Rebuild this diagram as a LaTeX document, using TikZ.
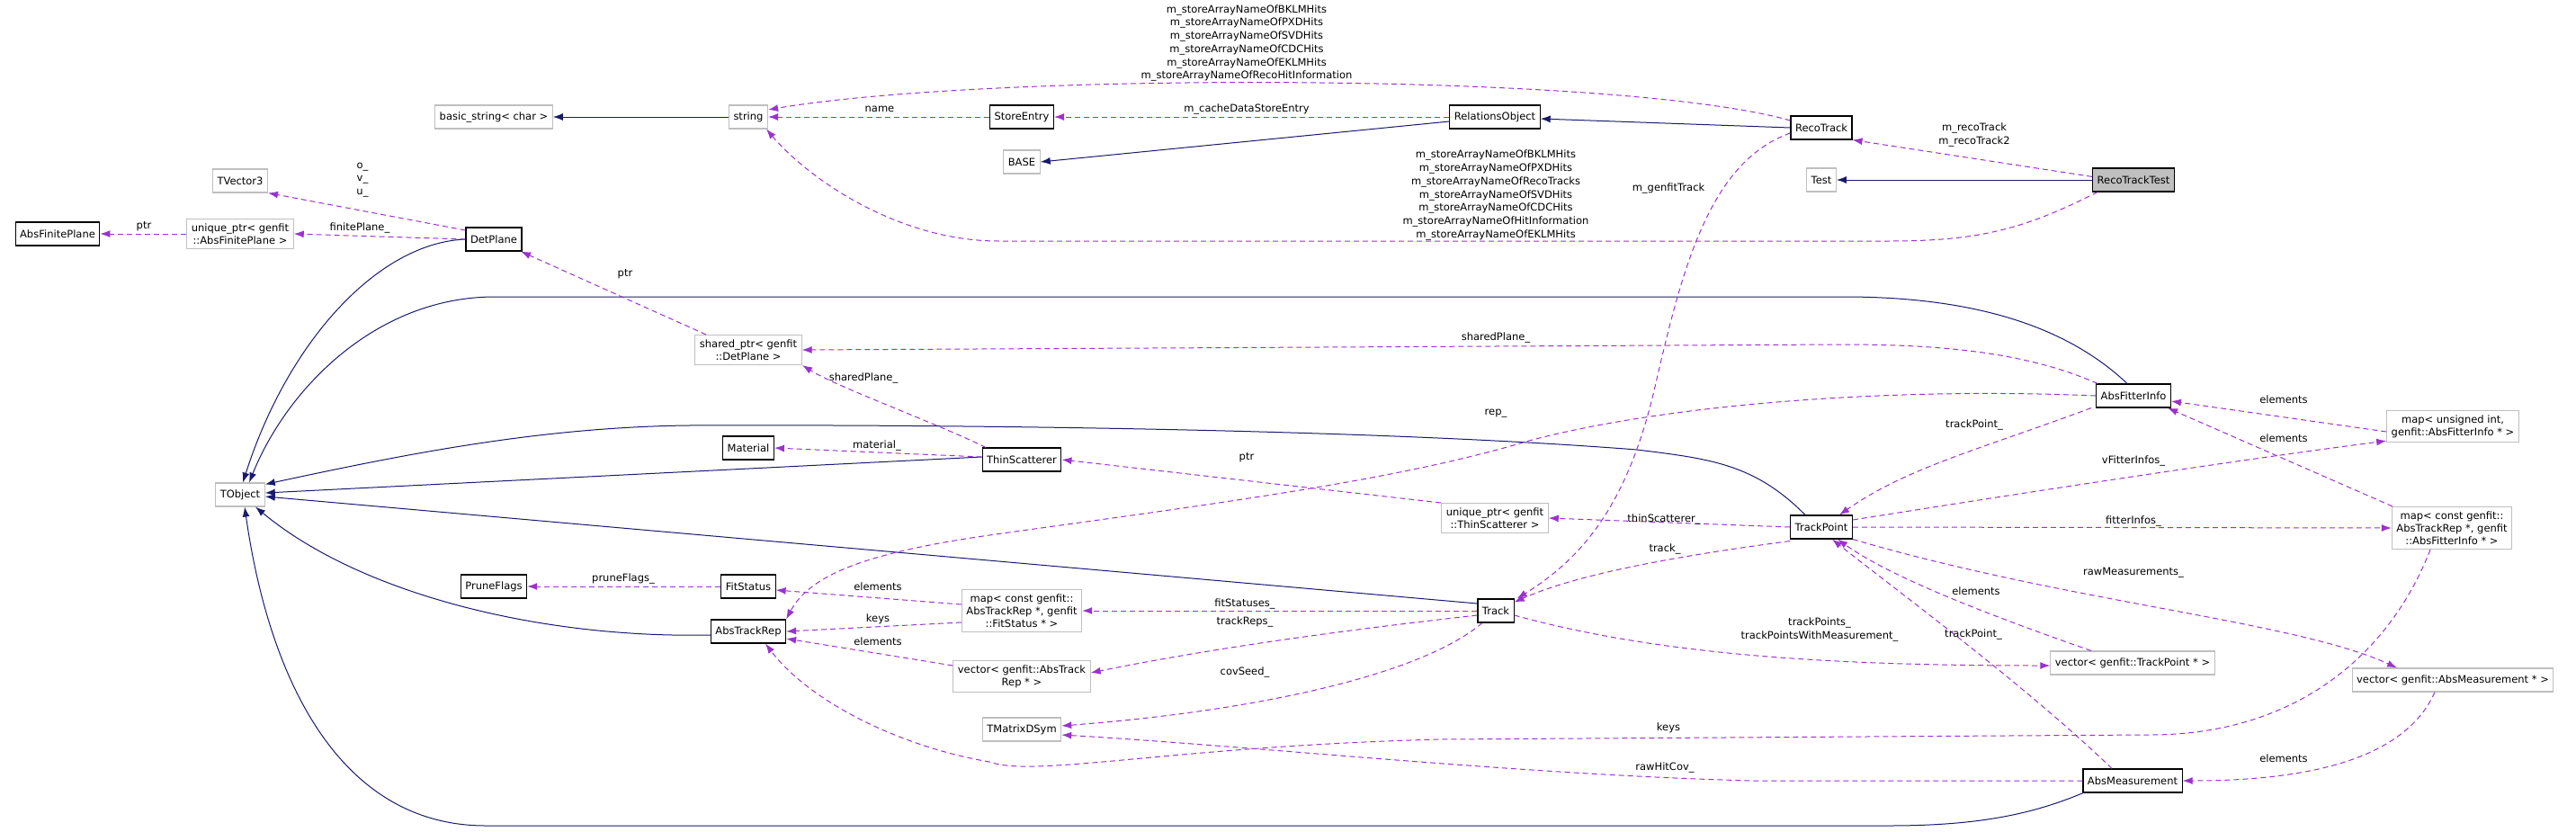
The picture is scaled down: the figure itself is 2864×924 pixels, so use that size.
\documentclass[tikz,border=0pt]{standalone}
\usepackage{fontspec}
\setmainfont{DejaVu Sans}
\usetikzlibrary{arrows.meta}
\definecolor{inhc}{HTML}{191970}
\definecolor{usec}{HTML}{9A32CD}
\definecolor{gbord}{HTML}{BFBFBF}
\tikzset{
 box/.style={draw=black,line width=1.1pt,inner xsep=5pt,inner ysep=5pt,minimum height=26pt,align=center,font=\fontsize{11.5}{14}\selectfont},
 gbox/.style={box,draw=gbord},
 inh/.style={draw=inhc,line width=1pt,-{Latex[length=11pt,width=8pt]}},
 usedep/.style={draw=usec,line width=1pt,dash pattern=on 6pt off 4pt,-{Latex[length=11pt,width=8pt]}},
 lbl/.style={font=\fontsize{11.5}{14.7}\selectfont,align=center,inner sep=0pt}
}
\begin{document}
\begin{tikzpicture}[x=1pt,y=-1pt]
\useasboundingbox (0,0) rectangle (2864,924);
% nodes
\node[gbox] (bstr) at (549,130) {basic\_string< char >};
\node[gbox] (string) at (832,130) {string};
\node[box] (storeentry) at (1136,130) {StoreEntry};
\node[box] (relobj) at (1662,130) {RelationsObject};
\node[box] (recotrack) at (2025,142) {RecoTrack};
\node[gbox] (base) at (1136,180) {BASE};
\node[gbox] (test) at (2025,200) {Test};
\node[box,fill=gray!50] (rtt) at (2372,200) {RecoTrackTest};
\node[gbox] (tvec) at (267,201) {TVector3};
\node[box] (afp) at (64,260) {AbsFinitePlane};
\node[gbox] (uafp) at (267,260) {unique\_ptr< genfit\\::AbsFinitePlane >};
\node[box] (detplane) at (549,266) {DetPlane};
\node[gbox] (sdp) at (832,389) {shared\_ptr< genfit\\::DetPlane >};
\node[box] (material) at (832,498) {Material};
\node[box] (ts) at (1136,511) {ThinScatterer};
\node[gbox] (tobject) at (267,550) {TObject};
\node[gbox] (uts) at (1662,576) {unique\_ptr< genfit\\::ThinScatterer >};
\node[box] (tp) at (2025,586) {TrackPoint};
\node[box] (afi) at (2372,440) {AbsFitterInfo};
\node[gbox] (mui) at (2727,474) {map< unsigned int,\\genfit::AbsFitterInfo * >};
\node[gbox] (mafi) at (2726,587) {map< const genfit::\\AbsTrackRep *, genfit\\::AbsFitterInfo * >};
\node[box] (pf) at (549,652) {PruneFlags};
\node[box] (fs) at (832,652) {FitStatus};
\node[box] (atr) at (832,702) {AbsTrackRep};
\node[gbox] (mfs) at (1136,679) {map< const genfit::\\AbsTrackRep *, genfit\\::FitStatus * >};
\node[gbox] (vatr) at (1136,752) {vector< genfit::AbsTrack\\Rep * >};
\node[gbox] (tmd) at (1136,811) {TMatrixDSym};
\node[box] (track) at (1663,679) {Track};
\node[gbox] (vtp) at (2371,737) {vector< genfit::TrackPoint * >};
\node[gbox] (vam) at (2727,756) {vector< genfit::AbsMeasurement * >};
\node[box] (am) at (2371,868) {AbsMeasurement};
% inheritance
\draw[inh] (string) -- (bstr);
\draw[inh] ([yshift=-5pt]relobj.west) -- (base.east);
\draw[inh] (recotrack.west) -- ([yshift=-2pt]relobj.east);
\draw[inh] (rtt.west) -- (test.east);
\draw[inh] (detplane.west) .. controls (420,270) and (320,380) .. ([xshift=3pt]tobject.north);
\draw[inh] ([xshift=-7pt]afi.north) .. controls (2300,365) and (2200,330) .. (2050,330) -- (550,330) .. controls (420,330) and (320,430) .. ([xshift=10pt]tobject.north);
\draw[inh] ([xshift=-18pt]tp.north) .. controls (1950,515) and (1900,510) .. (1820,500) .. controls (1500,475) and (1000,472) .. (765,473) .. controls (600,475) and (450,505) .. ([yshift=-2pt]tobject.north east);
\draw[inh] ([yshift=3pt]ts.west) -- ([yshift=2pt]tobject.east);
\draw[inh] ([yshift=8pt]track.west) -- ([yshift=-2pt]tobject.east);
\draw[inh] ([yshift=-4pt]atr.west) .. controls (600,710) and (400,660) .. ([xshift=17pt]tobject.south);
\draw[inh] ([xshift=-55pt]am.south) .. controls (2260,905) and (2200,918) .. (2100,918) -- (540,918) .. controls (380,918) and (300,760) .. ([xshift=5pt]tobject.south);
% usage
\draw[usedep] (storeentry) -- (string);
\node[lbl] (l1) at (978,121) {name};
\draw[usedep] (relobj) -- (storeentry);
\node[lbl] (l2) at (1386,121) {m\_cacheDataStoreEntry};
\draw[usedep] ([yshift=8pt]recotrack.west) .. controls (1800,80) and (1100,80) .. ([yshift=8pt]string.east);
\node[lbl] (l3) at (1386,48) {m\_storeArrayNameOfBKLMHits\\m\_storeArrayNameOfPXDHits\\m\_storeArrayNameOfSVDHits\\m\_storeArrayNameOfCDCHits\\m\_storeArrayNameOfEKLMHits\\m\_storeArrayNameOfRecoHitInformation};
\draw[usedep] ([xshift=-40pt]rtt.south) .. controls (2250,255) and (2200,268) .. (2100,268) -- (1110,268) .. controls (1000,268) and (900,200) .. ([xshift=20pt]string.south);
\node[lbl] (l4) at (1663,217) {m\_storeArrayNameOfBKLMHits\\m\_storeArrayNameOfPXDHits\\m\_storeArrayNameOfRecoTracks\\m\_storeArrayNameOfSVDHits\\m\_storeArrayNameOfCDCHits\\m\_storeArrayNameOfHitInformation\\m\_storeArrayNameOfEKLMHits};
\draw[usedep] ([yshift=-10pt]rtt.north west) -- (recotrack.south east);
\node[lbl] (l5) at (2195,150) {m\_recoTrack\\m\_recoTrack2};
\draw[usedep] ([yshift=-6pt]recotrack.west) .. controls (1900,180) and (1870,300) .. (1840,430) .. controls (1810,560) and (1760,620) .. ([xshift=3pt]track.north east);
\node[lbl] (l6) at (1855,209) {m\_genfitTrack};
\draw[usedep] ([yshift=10pt]detplane.west) -- (tvec.south east);
\node[lbl] (l7) at (403,200) {o\_\\v\_\\u\_};
\draw[usedep] (detplane.west) -- (uafp.east);
\node[lbl] (l8) at (400,253) {finitePlane\_};
\draw[usedep] (uafp) -- (afp);
\node[lbl] (l9) at (160,252) {ptr};
\draw[usedep] ([xshift=-47pt]sdp.north) -- ([xshift=30pt]detplane.south);
\node[lbl] (l10) at (695,305) {ptr};
\draw[usedep] ([xshift=-40pt]afi.north) .. controls (2250,390) and (2150,383) .. (2047,383) -- (sdp.east);
\node[lbl] (l11) at (1663,375) {sharedPlane\_};
\draw[usedep] ([xshift=-40pt]ts.north) .. controls (1040,470) and (930,430) .. ([xshift=60pt]sdp.south);
\node[lbl] (l12) at (960,420) {sharedPlane\_};
\draw[usedep] ([yshift=3pt]ts.west) -- (material.east);
\node[lbl] (l13) at (975,495) {material\_};
\draw[usedep] ([xshift=-60pt]uts.north) -- (ts.east);
\node[lbl] (l14) at (1386,509) {ptr};
\draw[usedep] (tp.west) -- (uts.east);
\node[lbl] (l15) at (1850,577) {thinScatterer\_};
\draw[usedep] (afi.west) .. controls (2100,430) and (1850,450) .. (1700,490) .. controls (1550,535) and (1350,560) .. (1100,595) .. controls (960,615) and (900,640) .. (atr.north east);
\node[lbl] (l16) at (1663,460) {rep\_};
\draw[usedep] ([xshift=-47pt]afi.south) .. controls (2200,500) and (2120,520) .. ([xshift=20pt]tp.north);
\node[lbl] (l17) at (2195,472) {trackPoint\_};
\draw[usedep] ([yshift=-6pt]mui.west) -- ([yshift=-6pt]afi.east);
\node[lbl] (l18) at (2539,444) {elements};
\draw[usedep] ([xshift=-66pt]mafi.north) -- ([xshift=38pt]afi.south);
\node[lbl] (l19) at (2539,487) {elements};
\draw[usedep] ([yshift=8pt]tp.east) .. controls (2300,540) and (2500,510) .. ([yshift=2pt]mui.south west);
\node[lbl] (l20) at (2372,512) {vFitterInfos\_};
\draw[usedep] (tp.east) -- (mafi.west);
\node[lbl] (l21) at (2372,579) {fitterInfos\_};
\draw[usedep] ([yshift=-2pt]tp.south west) .. controls (1850,620) and (1750,640) .. ([yshift=-4pt]track.north east);
\node[lbl] (l22) at (1851,610) {track\_};
\draw[usedep] (tp.south east) .. controls (2300,670) and (2550,690) .. ([xshift=-62pt]vam.north);
\node[lbl] (l23) at (2372,637) {rawMeasurements\_};
\draw[usedep] ([xshift=-46pt]vtp.north) .. controls (2200,680) and (2100,640) .. ([xshift=18pt]tp.south);
\node[lbl] (l24) at (2197,657) {elements};
\draw[usedep] ([xshift=-23pt]am.north) .. controls (2250,760) and (2100,650) .. ([xshift=12pt]tp.south);
\node[lbl] (l25) at (2194,705) {trackPoint\_};
\draw[usedep] ([yshift=-5pt]track.east) .. controls (1850,730) and (2050,740) .. ([yshift=-3pt]vtp.west);
\node[lbl] (l26) at (2023,700) {trackPoints\_\\trackPointsWithMeasurement\_};
\draw[usedep] (track.west) -- (mfs.east);
\node[lbl] (l27) at (1384,671) {fitStatuses\_};
\draw[usedep] ([yshift=-5pt]track.west) .. controls (1500,700) and (1350,720) .. ([yshift=4pt]vatr.east);
\node[lbl] (l28) at (1384,691) {trackReps\_};
\draw[usedep] ([xshift=-15pt]track.south) .. controls (1580,750) and (1400,790) .. ([yshift=4pt]tmd.east);
\node[lbl] (l29) at (1384,747) {covSeed\_};
\draw[usedep] ([yshift=7pt]mfs.west) -- ([yshift=-4pt]fs.east);
\node[lbl] (l30) at (976,652) {elements};
\draw[usedep] ([yshift=-13pt]mfs.west) -- (atr.east);
\node[lbl] (l31) at (976,688) {keys};
\draw[usedep] ([yshift=12pt]vatr.west) -- ([yshift=-8pt]atr.east);
\node[lbl] (l32) at (976,713) {elements};
\draw[usedep] (fs) -- (pf);
\node[lbl] (l33) at (693,643) {pruneFlags\_};
\draw[usedep] ([xshift=-24pt]mafi.south) .. controls (2660,720) and (2560,817) .. (2390,817) -- (1600,822) .. controls (1300,830) and (1150,865) .. (1100,847) .. controls (1000,830) and (900,780) .. ([xshift=19pt]atr.south);
\node[lbl] (l34) at (1855,809) {keys};
\draw[usedep] (am.west) -- (1950,868) .. controls (1700,862) and (1400,830) .. ([yshift=-6pt]tmd.east);
\node[lbl] (l35) at (1851,853) {rawHitCov\_};
\draw[usedep] ([xshift=-20pt]vam.south) .. controls (2680,830) and (2600,868) .. (am.east);
\node[lbl] (l36) at (2539,843) {elements};
\end{tikzpicture}
\end{document}
